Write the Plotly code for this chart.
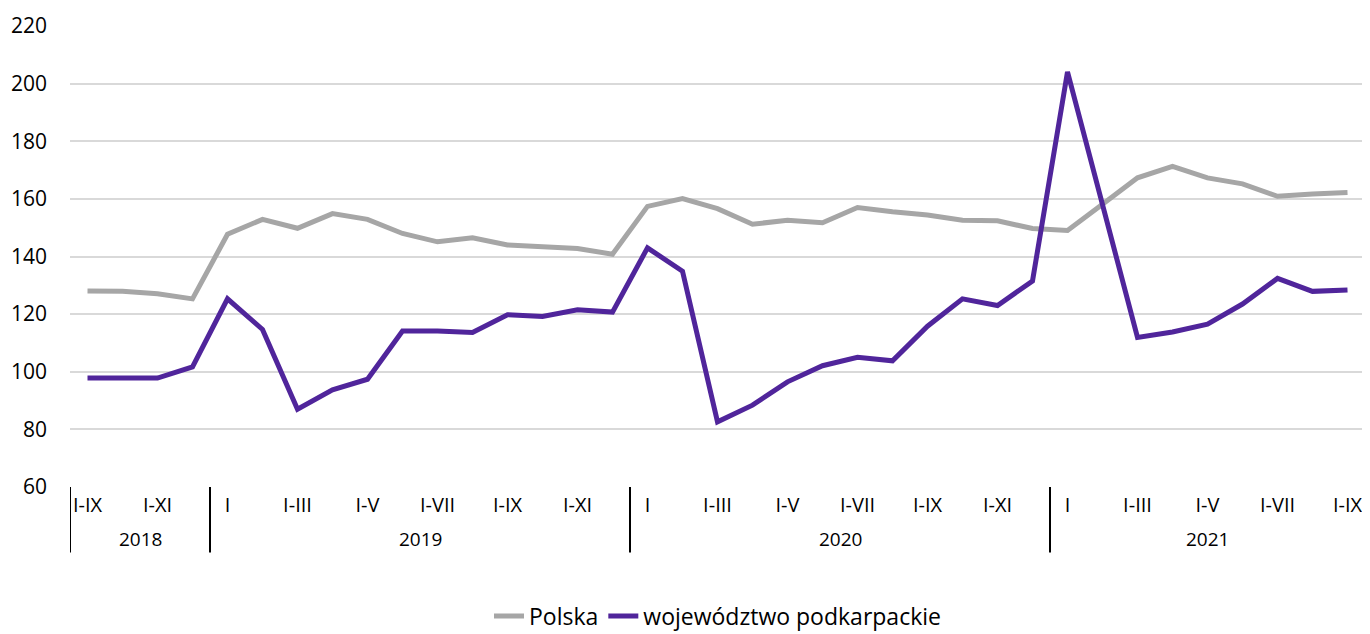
"""Polska vs województwo podkarpackie, index by cumulative periods 2018-2021"""

import plotly.graph_objects as go

# period labels (cumulative months) and year of each point
years = ["2018"] * 4 + ["2019"] * 12 + ["2020"] * 12 + ["2021"] * 9
months = (
    ["I-IX", "I-X", "I-XI", "I-XII"]
    + ["I", "I-II", "I-III", "I-IV", "I-V", "I-VI", "I-VII", "I-VIII", "I-IX", "I-X", "I-XI", "I-XII"] * 2
    + ["I", "I-II", "I-III", "I-IV", "I-V", "I-VI", "I-VII", "I-VIII", "I-IX"]
)

polska = [
    128.0, 127.9, 127.1, 125.3,
    147.7, 152.9, 149.8, 154.9, 152.9, 148.0, 145.1, 146.5, 144.0, 143.3, 142.8, 140.8,
    157.4, 160.1, 156.6, 151.2, 152.6, 151.7, 157.0, 155.5, 154.4, 152.6, 152.4, 149.7,
    149.0, 158.1, 167.3, 171.3, 167.3, 165.2, 160.9, 161.7, 162.2,
]
podkarpackie = [
    97.8, 97.8, 97.8, 101.7,
    125.3, 114.7, 87.0, 93.7, 97.4, 114.1, 114.1, 113.6, 119.8, 119.2, 121.5, 120.7,
    143.0, 134.9, 82.6, 88.4, 96.5, 102.1, 105.0, 103.8, 115.8, 125.3, 123.0, 131.5,
    204.1, 158.0, 111.9, 113.8, 116.5, 123.5, 132.4, 127.9, 128.4,
]

y_ticks = [60, 80, 100, 120, 140, 160, 180, 200, 220]

FONT = "Open Sans"
idx = list(range(len(months)))

fig = go.Figure()

fig.add_trace(go.Scatter(
    x=idx, y=polska, mode="lines", name="Polska",
    line=dict(color="#A6A6A6", width=5),
))
fig.add_trace(go.Scatter(
    x=idx, y=podkarpackie, mode="lines", name="województwo podkarpackie",
    line=dict(color="#50259B", width=5),
))

# only every other period label is shown
tick_pos = idx[::2]
tick_txt = [months[i] for i in tick_pos]

fig.update_xaxes(
    range=[-0.5, len(months) - 0.5],
    tickvals=tick_pos, ticktext=tick_txt,
    showgrid=False, zeroline=False, showline=False, ticks="",
    tickfont=dict(family=FONT, size=20, color="#000"),
    ticklabelstandoff=4, automargin=False,
)
fig.update_yaxes(
    range=[60, 220], tickvals=y_ticks,
    showgrid=True, gridcolor="#D9D9D9", gridwidth=1.5,
    zeroline=False, showline=False, ticks="",
    tickfont=dict(family=FONT, size=21, color="#000"),
    ticklabelstandoff=22, automargin=False,
)

# reference line at 100
fig.add_shape(type="line", xref="paper", x0=0, x1=1, yref="y", y0=100, y1=100,
              line=dict(color="#000", width=1.5), layer="between")

# year group dividers and year labels under the axis
bounds = [-0.5]
for i in range(1, len(years)):
    if years[i] != years[i - 1]:
        bounds.append(i - 0.5)
bounds.append(len(years) - 0.5)

for b in bounds:
    fig.add_shape(type="line", xref="x", x0=b, x1=b, yref="paper", y0=0, y1=-0.142,
                  line=dict(color="#000", width=2))

for a, b in zip(bounds[:-1], bounds[1:]):
    fig.add_annotation(x=(a + b) / 2, xref="x", y=-0.113, yref="paper",
                       text=years[int(a + 0.5)], showarrow=False,
                       font=dict(family=FONT, size=19, color="#000"),
                       yanchor="middle")

# page body has an 8px margin, so the figure is 8px smaller than the window
fig.update_layout(
    width=1362, height=626,
    margin=dict(l=62, r=5, t=18, b=147, autoexpand=False),
    plot_bgcolor="white", paper_bgcolor="white",
    font=dict(family=FONT, color="#000"),
    legend=dict(orientation="h", x=0.5, xanchor="center", y=-0.28, yanchor="middle",
                font=dict(family=FONT, size=23, color="#000")),
)

fig.write_html("out.html")
